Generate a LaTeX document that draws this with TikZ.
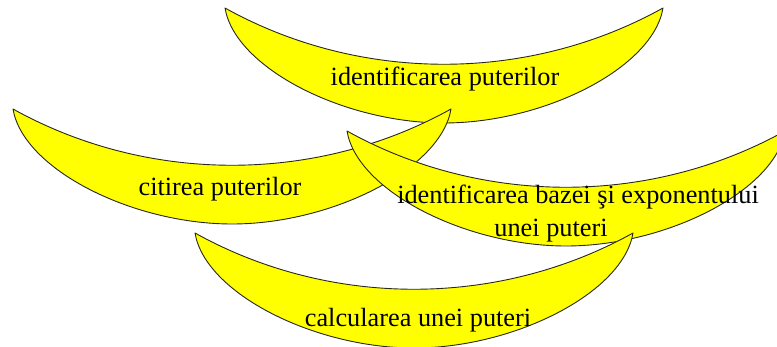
\documentclass[tikz,border=0pt]{standalone}
\usepackage{fontspec}
\setmainfont{Liberation Serif}
\definecolor{moonfill}{RGB}{255,255,0}
\definecolor{moonline}{RGB}{40,40,30}
\tikzset{
  moon/.style={fill=moonfill, draw=moonline, line width=0.9pt, line join=round},
  lbl/.style={font=\fontsize{26.3}{30}\selectfont, inner sep=0pt, anchor=base, text=black}
}
\newcommand\moonat[1]{%
  \path[moon, shift={#1}] (0,0) .. controls (135,75) and (303,75) .. (438,0)
    .. controls (428,60) and (319,115) .. (219,115)
    .. controls (119,115) and (10,60) .. cycle;}
\begin{document}
\begin{tikzpicture}[x=1pt, y=-1pt]
  \useasboundingbox (0,0) rectangle (777,347);
  % top
  \moonat{(225,8)}
  \node[lbl] (puterilor) at (445,86) {identificarea puterilor};
  % left
  \moonat{(13,109)}
  \node[lbl] (citirea) at (220,196) {citirea puterilor};
  % right
  \moonat{(347,131)}
  \node[lbl] (baza1) at (578,204) {identificarea bazei şi exponentului};
  \node[lbl] (baza2) at (551,237) {unei puteri};
  % bottom
  \moonat{(195,233)}
  \node[lbl] (calcul) at (418,327) {calcularea unei puteri};
\end{tikzpicture}
\end{document}
